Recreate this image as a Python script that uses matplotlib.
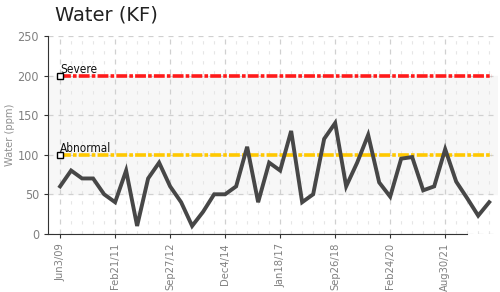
import matplotlib
matplotlib.use('Agg')
import matplotlib.pyplot as plt

# water readings (ppm), one per sample
water = [60, 80, 70, 70, 50, 40, 80, 10, 70, 90,
         60, 40, 10, 28, 50, 50, 60, 110, 40, 90,
         80, 130, 40, 50, 120, 140, 60, 90, 125, 65,
         47, 95, 97, 55, 60, 107, 66, 45, 23, 40]
tick_labels = ['Jun3/09', 'Feb21/11', 'Sep27/12', 'Dec4/14',
               'Jan18/17', 'Sep26/18', 'Feb24/20', 'Aug30/21']
tick_every = 5
limits = {'Severe': 200, 'Abnormal': 100}
limit_colours = {'Severe': '#ff1a1a', 'Abnormal': '#ffc800'}

plt.rcParams['font.family'] = ['DejaVu Sans']
plt.rcParams['font.stretch'] = 'condensed'

fig = plt.figure(figsize=(5, 2.92), dpi=100)
ax = fig.add_axes([0.096, 0.199, 0.9, 0.678])

x = list(range(len(water)))

#background band and grid
ax.axhspan(50, 200, color='#f7f7f7', zorder=0)
ax.set_yticks([0, 50, 100, 150, 200, 250])
ax.set_xticks(x[::tick_every])
ax.set_xticks(x, minor=True)
ax.grid(True, which='major', color='#d0d0d0', linestyle=(0, (4, 4)), linewidth=0.9)
ax.grid(True, which='minor', axis='x', color='#e6e6e6', linestyle=(0, (3, 6)), linewidth=0.8)
ax.set_axisbelow(True)

#limit lines
for name, level in limits.items():
    ax.plot([x[0], x[-1] + 0.3], [level, level], color=limit_colours[name],
            linewidth=2.6, linestyle=(0, (3, 0.6, 1, 0.6)), zorder=3)
    ax.plot([x[0]], [level], marker='s', markersize=4.5, markerfacecolor='white',
            markeredgecolor='black', markeredgewidth=1, zorder=4)
    ax.text(x[0], level + 3, name, fontsize=8.5, color='#111111', zorder=5)

#data
ax.plot(x, water, color='#474747', linewidth=2.8, zorder=4, solid_joinstyle='miter')

ax.set_xlim(-1.1, 39.8)
ax.set_ylim(0, 250)
ax.set_xticklabels(tick_labels, rotation=90)
ax.tick_params(axis='both', which='major', labelsize=9, labelcolor='#808080',
               color='#333333', length=3, direction='out')
ax.tick_params(axis='x', which='major', labelsize=8)
ax.tick_params(axis='x', which='minor', length=0)
ax.set_ylabel('Water (ppm)', fontsize=8, color='#909090', labelpad=2)

for s in ['top', 'right']:
    ax.spines[s].set_visible(False)
ax.spines['left'].set_color('#333333')
ax.spines['bottom'].set_color('#333333')
ax.spines['bottom'].set_bounds(-1.1, 37)

fig.text(0.11, 0.93, 'Water (KF)', fontsize=14, color='#222222', stretch='normal')

plt.savefig('out.png', dpi=100)
